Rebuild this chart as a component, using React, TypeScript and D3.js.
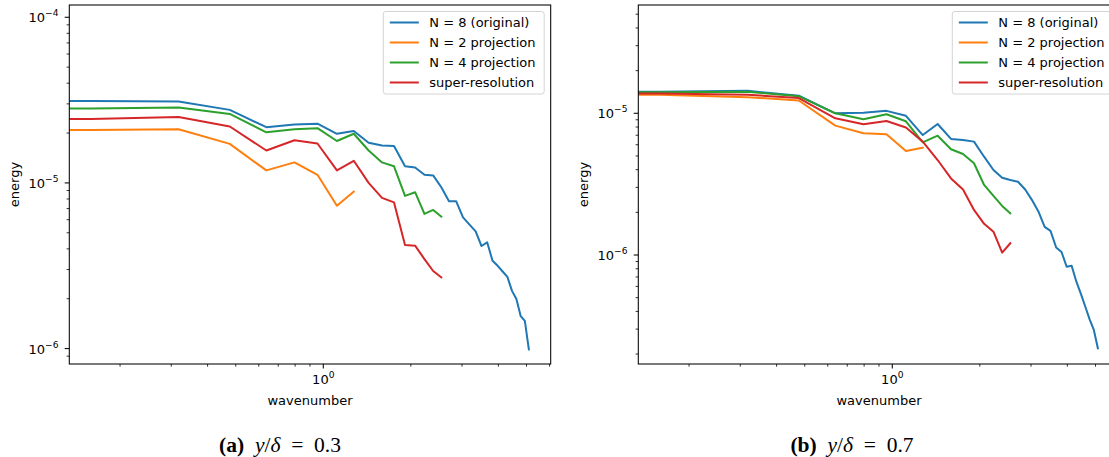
import React from "react";
import * as d3 from "d3";

// wavenumber of each mode (k_n)
const wavenumber = [
  0.159, 0.318, 0.477, 0.637, 0.796, 0.955, 1.114, 1.273, 1.432, 1.592, 1.751,
  1.91, 2.069, 2.228, 2.387, 2.546, 2.706, 2.865, 3.024, 3.183, 3.342, 3.501,
  3.661, 3.82, 3.979, 4.138, 4.297, 4.456, 4.615, 4.775, 4.934, 5.093,
];

const seriesNames = ["N = 8 (original)", "N = 2 projection", "N = 4 projection", "super-resolution"];
const seriesColors = ["#1f77b4", "#ff7f0e", "#2ca02c", "#d62728"];

// (a) y/delta = 0.3
const a_original = [
  3.12e-5, 3.1e-5, 2.76e-5, 2.17e-5, 2.25e-5, 2.28e-5, 1.98e-5, 2.06e-5, 1.75e-5, 1.68e-5, 1.67e-5,
  1.26e-5, 1.24e-5, 1.12e-5, 1.11e-5, 9.42e-6, 7.75e-6, 7.75e-6, 6.19e-6, 5.6e-6, 5.1e-6, 4.16e-6,
  4.38e-6, 3.39e-6, 3.16e-6, 2.92e-6, 2.71e-6, 2.23e-6, 1.99e-6, 1.57e-6, 1.47e-6, 9.9e-7,
];
const a_proj2 = [2.09e-5, 2.11e-5, 1.72e-5, 1.19e-5, 1.33e-5, 1.12e-5, 7.29e-6, 8.87e-6];
const a_proj4 = [
  2.81e-5, 2.85e-5, 2.61e-5, 2.02e-5, 2.11e-5, 2.14e-5, 1.79e-5, 1.98e-5, 1.57e-5, 1.33e-5, 1.26e-5,
  8.35e-6, 8.79e-6, 6.5e-6, 6.87e-6, 6.26e-6,
];
const a_superres = [
  2.43e-5, 2.5e-5, 2.19e-5, 1.57e-5, 1.81e-5, 1.73e-5, 1.19e-5, 1.36e-5, 1.0e-5, 8.12e-6, 7.63e-6,
  4.22e-6, 4.18e-6, 3.47e-6, 2.94e-6, 2.69e-6,
];

// (b) y/delta = 0.7
const b_original = [
  1.42e-5, 1.44e-5, 1.33e-5, 1.0e-5, 1.01e-5, 1.04e-5, 9.6e-6, 7.02e-6, 8.4e-6, 6.59e-6, 6.48e-6,
  6.31e-6, 4.94e-6, 3.98e-6, 3.51e-6, 3.38e-6, 3.29e-6, 2.9e-6, 2.44e-6, 2.02e-6, 1.58e-6, 1.48e-6,
  1.13e-6, 1.05e-6, 8.26e-7, 8.39e-7, 6.48e-7, 5.3e-7, 4.3e-7, 3.5e-7, 2.96e-7, 2.2e-7,
];
const b_proj2 = [1.35e-5, 1.3e-5, 1.23e-5, 8.18e-6, 7.22e-6, 7.11e-6, 5.42e-6, 5.71e-6];
const b_proj4 = [
  1.41e-5, 1.42e-5, 1.32e-5, 1.0e-5, 9.07e-6, 9.84e-6, 8.78e-6, 6.24e-6, 6.95e-6, 5.57e-6, 5.16e-6,
  4.44e-6, 3.12e-6, 2.61e-6, 2.22e-6, 1.97e-6,
];
const b_superres = [
  1.38e-5, 1.35e-5, 1.28e-5, 9.22e-6, 8.36e-6, 8.83e-6, 7.94e-6, 6.31e-6, 4.68e-6, 3.47e-6, 2.9e-6,
  2.08e-6, 1.66e-6, 1.46e-6, 1.04e-6, 1.21e-6,
];

const xDomainExp = [-0.8735, 0.7821];
const a_yDomainExp = [-6.093, -3.926];
const b_yDomainExp = [-6.769, -4.236];

const FONT = "DejaVu Sans, sans-serif";
const TOP = 5;
const BOTTOM = 364;
const PW = 481.4;

function Pow10({ x, y, exp, anchor }: { x: number; y: number; exp: number; anchor: string }) {
  const e = exp < 0 ? "\u2212" + Math.abs(exp) : String(exp);
  return (
    <text x={x} y={y} textAnchor={anchor} fontFamily={FONT} fontSize={13} fill="#000">
      10
      <tspan fontSize={9.1} dy={-6}>
        {e}
      </tspan>
    </text>
  );
}

function Panel({
  x0,
  series,
  yExp,
  id,
}: {
  x0: number;
  series: number[][];
  yExp: number[];
  id: string;
}) {
  const x1 = x0 + PW;
  const xs = d3.scaleLog().domain([10 ** xDomainExp[0], 10 ** xDomainExp[1]]).range([x0, x1]);
  const ys = d3.scaleLog().domain([10 ** yExp[0], 10 ** yExp[1]]).range([BOTTOM, TOP]);
  const [xlo, xhi] = xs.domain();
  const [ylo, yhi] = ys.domain();

  const xTicks: { v: number; major: boolean }[] = [];
  for (let d = -2; d <= 1; d++)
    for (let m = 1; m <= 9; m++) {
      const v = m * 10 ** d;
      if (v >= xlo && v <= xhi) xTicks.push({ v, major: m === 1 });
    }
  const yTicks: { v: number; major: boolean; d: number }[] = [];
  for (let d = -8; d <= -3; d++)
    for (let m = 1; m <= 9; m++) {
      const v = m * 10 ** d;
      if (v >= ylo && v <= yhi) yTicks.push({ v, major: m === 1, d });
    }

  const line = d3
    .line<[number, number]>()
    .x((d) => xs(d[0]))
    .y((d) => ys(d[1]));

  const legX = x1 - 167.4;
  const legY = 11.5;

  return (
    <g>
      <defs>
        <clipPath id={id}>
          <rect x={x0} y={TOP} width={PW} height={BOTTOM - TOP} />
        </clipPath>
      </defs>
      <g clipPath={`url(#${id})`}>
        {series.map((vals, si) => {
          // first segment continues flat to the axis edge (clipped k=0 mode)
          const pts: [number, number][] = [[xlo, vals[0]], ...vals.map((v, i) => [wavenumber[i], v] as [number, number])];
          return (
            <path
              key={si}
              d={line(pts) || ""}
              fill="none"
              stroke={seriesColors[si]}
              strokeWidth={2}
              strokeLinejoin="round"
              strokeLinecap="square"
            />
          );
        })}
      </g>
      {/* spines */}
      <rect x={x0} y={TOP} width={PW} height={BOTTOM - TOP} fill="none" stroke="#000" strokeWidth={1.05} />
      {/* x ticks */}
      {xTicks.map((t, i) => (
        <line
          key={"x" + i}
          x1={xs(t.v)}
          x2={xs(t.v)}
          y1={BOTTOM}
          y2={BOTTOM + (t.major ? 4.6 : 2.7)}
          stroke="#000"
          strokeWidth={t.major ? 1.05 : 0.8}
        />
      ))}
      {xTicks
        .filter((t) => t.major)
        .map((t, i) => (
          <Pow10 key={"xl" + i} x={xs(t.v)} y={384} exp={Math.round(Math.log10(t.v))} anchor="middle" />
        ))}
      {/* y ticks */}
      {yTicks.map((t, i) => (
        <line
          key={"y" + i}
          x1={x0}
          x2={x0 - (t.major ? 4.6 : 2.7)}
          y1={ys(t.v)}
          y2={ys(t.v)}
          stroke="#000"
          strokeWidth={t.major ? 1.05 : 0.8}
        />
      ))}
      {yTicks
        .filter((t) => t.major)
        .map((t, i) => (
          <Pow10 key={"yl" + i} x={x0 - 10.8} y={ys(t.v) + 5} exp={t.d} anchor="end" />
        ))}
      {/* axis labels */}
      <text x={(x0 + x1) / 2} y={405} textAnchor="middle" fontFamily={FONT} fontSize={13}>
        wavenumber
      </text>
      <text
        transform={`translate(${x0 - 50.5},${(TOP + BOTTOM) / 2}) rotate(-90)`}
        textAnchor="middle"
        fontFamily={FONT}
        fontSize={13}
      >
        energy
      </text>
      {/* legend */}
      <rect
        x={legX}
        y={legY}
        width={160.9}
        height={82.5}
        rx={2.6}
        fill="#fff"
        fillOpacity={0.8}
        stroke="#d4d4d4"
        strokeWidth={1}
      />
      {seriesNames.map((name, i) => (
        <g key={"lg" + i}>
          <line
            x1={legX + 6.5}
            x2={legX + 35.5}
            y1={legY + 11 + i * 20}
            y2={legY + 11 + i * 20}
            stroke={seriesColors[i]}
            strokeWidth={2}
          />
          <text x={legX + 46} y={legY + 15.6 + i * 20} fontFamily={FONT} fontSize={13}>
            {name}
          </text>
        </g>
      ))}
    </g>
  );
}

function Caption({ cx, label, value }: { cx: number; label: string; value: string }) {
  return (
    <text x={cx} y={452} textAnchor="middle" fontFamily="Liberation Serif, serif" fontSize={21.5} fill="#000">
      <tspan fontWeight="bold">{label}</tspan>
      {"\u2002"}
      <tspan fontStyle="italic">y</tspan>
      {"/"}
      <tspan fontStyle="italic">{"\u03b4"}</tspan>
      {"\u2002=\u2002" + value}
    </text>
  );
}

export default function App() {
  return (
    <svg
      width={1109}
      height={457}
      viewBox="0 0 1109 457"
      style={{ position: "absolute", left: 0, top: 0, background: "#fff" }}
    >
      <rect x={0} y={0} width={1109} height={457} fill="#fff" />
      <Panel x0={69.3} series={[a_original, a_proj2, a_proj4, a_superres]} yExp={a_yDomainExp} id="clipA" />
      <Panel x0={638.3} series={[b_original, b_proj2, b_proj4, b_superres]} yExp={b_yDomainExp} id="clipB" />
      <Caption cx={280} label="(a)" value="0.3" />
      <Caption cx={852} label="(b)" value="0.7" />
    </svg>
  );
}
